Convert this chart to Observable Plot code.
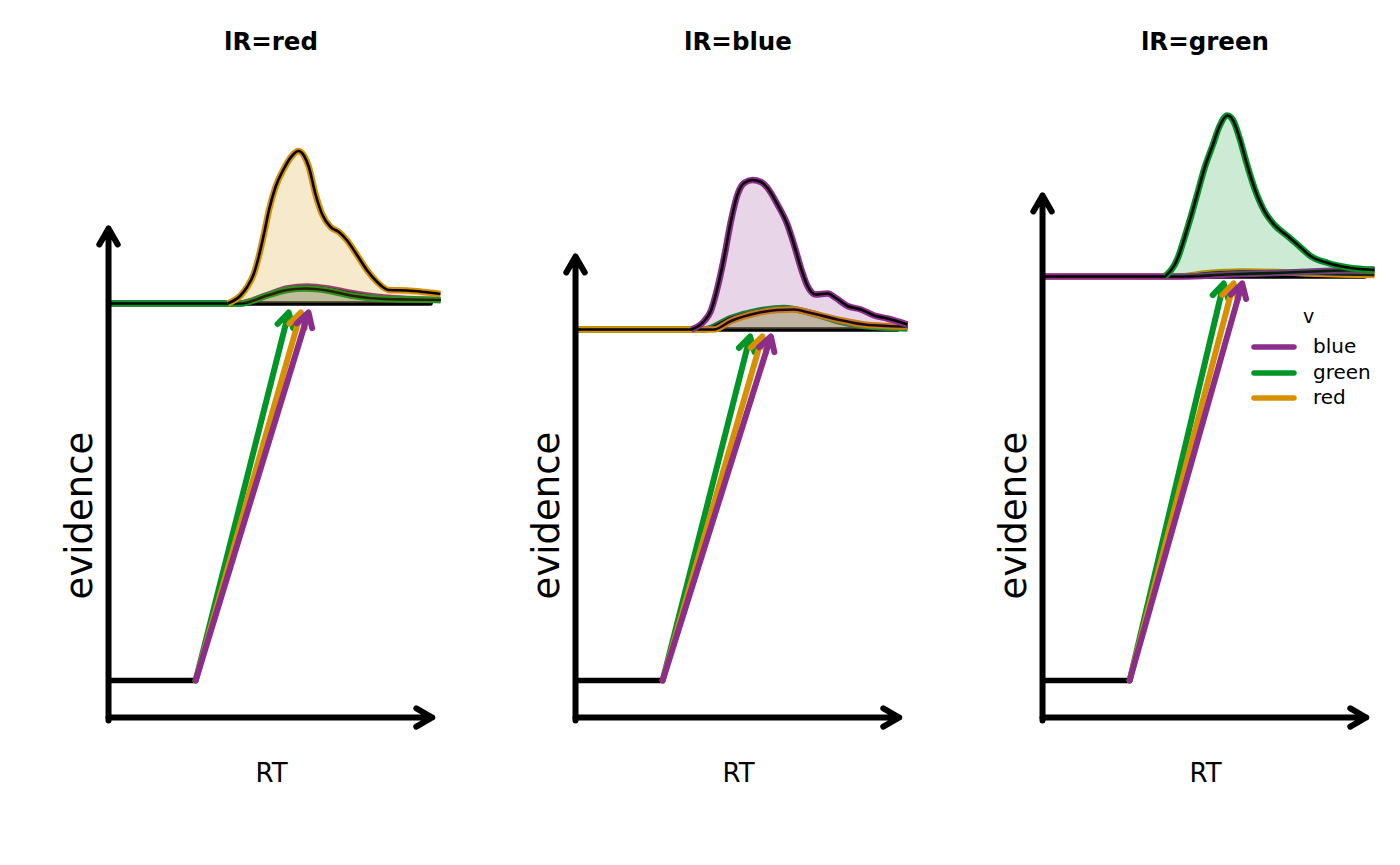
<!DOCTYPE html>
<html>
<head>
<meta charset="utf-8">
<script src="https://cdn.jsdelivr.net/npm/d3@7"></script>
<script src="https://cdn.jsdelivr.net/npm/@observablehq/plot@0.6"></script>
<style>
  body { margin: 0; background: #fff; font-family: "DejaVu Sans", sans-serif; }
  #wrap { position: relative; width: 1400px; height: 865px; display: flex; overflow: hidden; }
  .panel { width: 467px; flex: none; }
  .title { height: 65px; position: relative; }
  .title span { position: absolute; left: 0; width: 542px; text-align: center; top: 30px;
    line-height: 24px; font-weight: bold; font-size: 24.5px; color: #000; }
  #legend { position: absolute; left: 0; top: 0; width: 1400px; height: 0; }
  #legend div { position: absolute; font-size: 20px; line-height: 20px; color: #000; white-space: nowrap; }
</style>
</head>
<body>
<div id="wrap"></div>
<script>
// ---- data ----
const panelLabels = ["lR=red", "lR=blue", "lR=green"];
const accumulators = ["blue", "green", "red"];
const accColors = ["#8C2D8C", "#009527", "#D99000"];
const drawOrder = [["blue", "green", "red"], ["green", "red", "blue"], ["red", "blue", "green"]];

const thresholds = [0.828, 0.776, 0.882];
const yAxisTops = [0.978, 0.922, 1.044];
const startEvidence = 0.074;
const t0 = 0.258;
const xAxisEnd = 0.975;
const thresholdEnd = 0.97;

// arrow tips of the accumulators, per panel
const tipY = [0.810, 0.762, 0.868];
const tipX_blue = [0.600, 0.586, 0.599];
const tipX_green = [0.540, 0.523, 0.543];
const tipX_red = [0.577, 0.560, 0.573];

// defective densities [RT, height above threshold], per panel and accumulator
const dens_red_red = [[0.355,0],[0.394,0.016],[0.414,0.033],[0.434,0.059],[0.449,0.093],[0.465,0.139],[0.480,0.186],[0.500,0.233],[0.525,0.269],[0.551,0.296],[0.569,0.305],[0.586,0.296],[0.601,0.273],[0.621,0.219],[0.641,0.179],[0.667,0.153],[0.692,0.143],[0.717,0.126],[0.748,0.096],[0.778,0.066],[0.808,0.043],[0.843,0.027],[0.899,0.026],[0.949,0.023],[1.0,0.019]];
const dens_red_green = [[0,0],[0.394,0],[0.475,0.016],[0.535,0.027],[0.591,0.030],[0.657,0.026],[0.727,0.016],[0.828,0.009],[0.9,0.008],[1.0,0.007]];
const dens_red_blue = [[0,0],[0.39,0],[0.475,0.017],[0.535,0.030],[0.596,0.034],[0.66,0.030],[0.73,0.021],[0.83,0.012],[0.9,0.009],[1.0,0.007]];

const dens_blue_blue = [[0.345,0],[0.384,0.017],[0.404,0.037],[0.424,0.083],[0.444,0.143],[0.465,0.217],[0.485,0.270],[0.505,0.293],[0.530,0.299],[0.556,0.295],[0.576,0.283],[0.606,0.250],[0.636,0.210],[0.656,0.170],[0.677,0.123],[0.697,0.087],[0.722,0.070],[0.758,0.072],[0.783,0.063],[0.818,0.047],[0.859,0.040],[0.899,0.028],[0.939,0.022],[1.0,0.010]];
const dens_blue_red = [[0,0],[0.413,0],[0.465,0.017],[0.545,0.033],[0.606,0.039],[0.656,0.040],[0.707,0.033],[0.788,0.020],[0.869,0.010],[0.939,0.007],[1.0,0.006]];
const dens_blue_green = [[0,0],[0.384,0],[0.465,0.023],[0.545,0.037],[0.626,0.043],[0.707,0.033],[0.788,0.017],[0.869,0.007],[1.0,0.002]];

const dens_green_green = [[0.365,0],[0.404,0.037],[0.424,0.077],[0.445,0.123],[0.465,0.170],[0.485,0.217],[0.510,0.263],[0.530,0.300],[0.554,0.322],[0.571,0.313],[0.591,0.277],[0.611,0.230],[0.636,0.177],[0.667,0.130],[0.697,0.103],[0.738,0.080],[0.768,0.063],[0.808,0.040],[0.859,0.027],[0.919,0.018],[1.0,0.013]];
const dens_green_red = [[0,0],[0.40,0],[0.5,0.007],[0.6,0.010],[0.7,0.009],[0.8,0.006],[0.9,0.004],[1.0,0.003]];
const dens_green_blue = [[0,0],[0.42,0],[0.55,0.004],[0.7,0.007],[0.85,0.011],[1.0,0.014]];

const densities = [
  {red: dens_red_red, green: dens_red_green, blue: dens_red_blue},
  {blue: dens_blue_blue, red: dens_blue_red, green: dens_blue_green},
  {green: dens_green_green, red: dens_green_red, blue: dens_green_blue}
];
const tipX = {blue: tipX_blue, green: tipX_green, red: tipX_red};
const colorOf = Object.fromEntries(accumulators.map((a, i) => [a, accColors[i]]));

// ---- drawing ----
const wrap = document.getElementById("wrap");
const FONT = "DejaVu Sans";

panelLabels.forEach((label, p) => {
  const thr = thresholds[p];
  const panel = document.createElement("div");
  panel.className = "panel";
  const title = document.createElement("div");
  title.className = "title";
  const span = document.createElement("span");
  span.textContent = label;
  title.appendChild(span);
  panel.appendChild(title);

  const marks = [];
  // threshold
  marks.push(Plot.line([[0, thr], [thresholdEnd, thr]], {x: d => d[0], y: d => d[1], stroke: "black", strokeWidth: 4.5}));
  // densities
  for (const acc of drawOrder[p]) {
    const data = densities[p][acc];
    const col = colorOf[acc];
    marks.push(Plot.areaY(data, {x: d => d[0], y1: () => thr, y2: d => thr + d[1], fill: col, fillOpacity: 0.2, curve: "monotone-x"}));
    marks.push(Plot.line(data, {x: d => d[0], y: d => thr + d[1], stroke: col, strokeWidth: 6.5, curve: "monotone-x", strokeLinecap: "butt"}));
    marks.push(Plot.line(data, {x: d => d[0], y: d => thr + d[1], stroke: "black", strokeWidth: 2.6, curve: "monotone-x", strokeLinecap: "butt"}));
  }
  // axes
  marks.push(Plot.arrow([{x1: -0.006, y1: 0, x2: xAxisEnd, y2: 0}], {x1: "x1", y1: "y1", x2: "x2", y2: "y2", stroke: "black", strokeWidth: 6, headLength: 4.6, headAngle: 60, strokeLinecap: "round", strokeLinejoin: "round"}));
  marks.push(Plot.arrow([{x1: -0.006, y1: -0.006, x2: -0.006, y2: yAxisTops[p]}], {x1: "x1", y1: "y1", x2: "x2", y2: "y2", stroke: "black", strokeWidth: 6, headLength: 4.6, headAngle: 60, strokeLinecap: "round", strokeLinejoin: "round"}));
  // non-decision time segment
  marks.push(Plot.line([[0, startEvidence], [t0, startEvidence]], {x: d => d[0], y: d => d[1], stroke: "black", strokeWidth: 5.5}));
  // accumulator arrows
  for (const acc of ["green", "red", "blue"]) {
    marks.push(Plot.arrow([{x1: t0, y1: startEvidence, x2: tipX[acc][p], y2: tipY[p]}], {x1: "x1", y1: "y1", x2: "x2", y2: "y2", stroke: colorOf[acc], strokeWidth: 6, headLength: 4.0, headAngle: 60, strokeLinecap: "round", strokeLinejoin: "round"}));
  }
  // axis titles
  marks.push(Plot.text(["RT"], {x: () => 0.488, y: () => -0.113, text: d => d, fontSize: 26, fill: "black"}));
  marks.push(Plot.text(["evidence"], {x: () => -0.091, y: () => 0.404, text: d => d, fontSize: 37, rotate: -90, fill: "black"}));

  const chart = Plot.plot({
    width: 467, height: 800,
    marginLeft: 110, marginRight: 27, marginTop: 27, marginBottom: 148,
    x: {domain: [0, 1], axis: null},
    y: {domain: [0, 1.25], axis: null},
    style: {background: "transparent", fontFamily: FONT, overflow: "visible"},
    marks
  });
  panel.appendChild(chart);
  wrap.appendChild(panel);
});

// legend (inside third panel)
const legend = document.createElement("div");
legend.id = "legend";
const vt = document.createElement("div");
vt.textContent = "v";
vt.style.left = "1303px"; vt.style.top = "306px"; vt.style.fontSize = "19px";
legend.appendChild(vt);
accumulators.forEach((acc, i) => {
  const cy = 347 + i * 25.5;
  const sw = document.createElementNS("http://www.w3.org/2000/svg", "svg");
  sw.setAttribute("width", 54); sw.setAttribute("height", 12);
  sw.style.position = "absolute"; sw.style.left = "1248px"; sw.style.top = (cy - 6) + "px";
  const ln = document.createElementNS("http://www.w3.org/2000/svg", "line");
  ln.setAttribute("x1", 6); ln.setAttribute("x2", 46); ln.setAttribute("y1", 6); ln.setAttribute("y2", 6);
  ln.setAttribute("stroke", accColors[i]); ln.setAttribute("stroke-width", 5.5); ln.setAttribute("stroke-linecap", "round");
  sw.appendChild(ln);
  legend.appendChild(sw);
  const t = document.createElement("div");
  t.textContent = acc;
  t.style.left = "1313px"; t.style.top = (cy - 11) + "px";
  legend.appendChild(t);
});
wrap.appendChild(legend);
</script>
</body>
</html>
